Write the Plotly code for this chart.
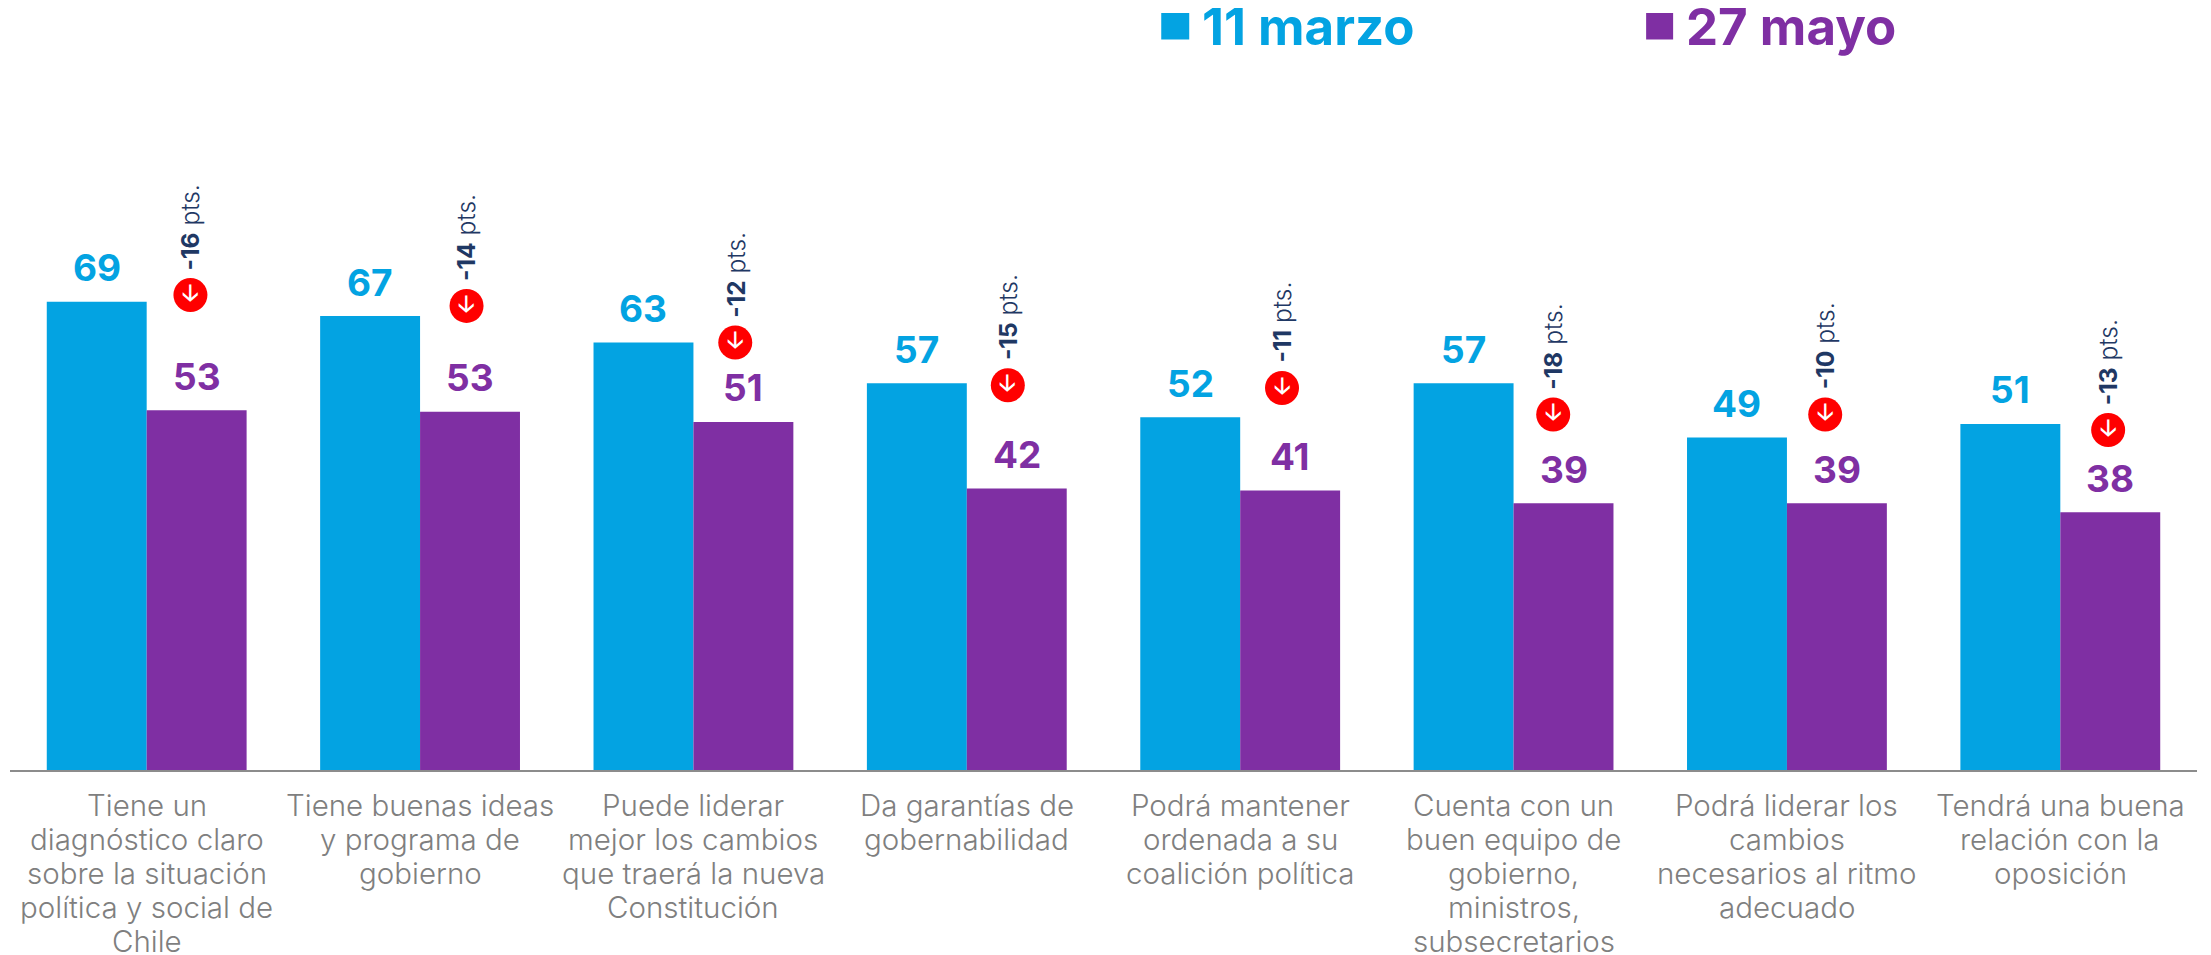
import plotly.graph_objects as go

categories = ["Tiene un<br>diagnóstico claro<br>sobre la situación<br>política y social de<br>Chile",
              "Tiene buenas ideas<br>y programa de<br>gobierno",
              "Puede liderar<br>mejor los cambios<br>que traerá la nueva<br>Constitución",
              "Da garantías de<br>gobernabilidad",
              "Podrá mantener<br>ordenada a su<br>coalición política",
              "Cuenta con un<br>buen equipo de<br>gobierno,<br>ministros,<br>subsecretarios",
              "Podrá liderar los<br>cambios<br>necesarios al ritmo<br>adecuado",
              "Tendrá una buena<br>relación con la<br>oposición"]
marzo = [69, 66.9, 63, 57, 52, 57, 49, 51]
mayo = [53, 52.8, 51.3, 41.5, 41.2, 39.3, 39.3, 38]
marzo_labels = [69, 67, 63, 57, 52, 57, 49, 51]
mayo_labels = [53, 53, 51, 42, 41, 39, 39, 38]
diffs = [-16, -14, -12, -15, -11, -18, -10, -13]
marker_x = [0.16, 0.17, 0.153, 0.15, 0.153, 0.145, 0.14, 0.175]
marker_y = [70, 68.4, 63, 56.7, 56.3, 52.4, 52.4, 50.1]

BLUE = "#03A3E2"
PURPLE = "#7F2FA3"
FONT = "Inter"
BAR_OFFSET = 0.183
xs = list(range(len(categories)))

fig = go.Figure()
fig.add_bar(x=xs, y=marzo, marker=dict(color=BLUE, line_width=0), name="11 marzo", showlegend=False)
fig.add_bar(x=xs, y=mayo, marker=dict(color=PURPLE, line_width=0), name="27 mayo", showlegend=False)
fig.add_scatter(x=[i + o for i, o in zip(xs, marker_x)], y=marker_y, mode="markers+text",
                marker=dict(size=34, color="#FF0000"), text=["🡣"] * 8, textposition="middle center",
                textfont=dict(color="white", size=23, family="DejaVu Sans", weight=700),
                showlegend=False, cliponaxis=False)

for i in xs:
    fig.add_annotation(x=i + marker_x[i], y=marker_y[i], yshift=23, text=f"<b>{diffs[i]}</b> pts.", textangle=-90,
                       showarrow=False, yanchor="bottom", xanchor="center",
                       font=dict(size=24.5, color="#1F3864", family=FONT, weight=300))
    for vals, labs, sign, col in ((marzo, marzo_labels, -1, BLUE), (mayo, mayo_labels, 1, PURPLE)):
        fig.add_annotation(x=i + sign * BAR_OFFSET, y=vals[i], yshift=34, text=str(labs[i]), showarrow=False,
                           yanchor="middle", xanchor="center",
                           font=dict(size=37, color=col, family=FONT, weight=700))
    for k, line in enumerate(categories[i].split("<br>")):
        fig.add_annotation(x=i, y=0, yshift=-35 - 34.1 * k, text=line, showarrow=False,
                           yanchor="middle", xanchor="center",
                           font=dict(size=29.5, color="#7F7F7F", family=FONT, weight=300))

# Figure sits 8px inside the page (body margin); legend keys are placed in paper space
PAGE = 8
L, R, B, H, W = 1.5, 14, 185, 947, 2203
PW, PH = W - L - R, H - B
def px(v): return (v - PAGE - L) / PW
def py(v): return 1 - (v - PAGE) / PH
for x0, x1, tx, name, col in ((1161, 1189, 1200, "11 marzo", BLUE), (1646, 1673, 1684, "27 mayo", PURPLE)):
    fig.add_shape(type="rect", xref="paper", yref="paper", x0=px(x0), x1=px(x1), y0=py(13), y1=py(39.5),
                  fillcolor=col, line_width=0)
    fig.add_annotation(xref="paper", yref="paper", x=px(tx), y=py(27), text=name, showarrow=False,
                       xanchor="left", yanchor="middle",
                       font=dict(size=51, color=col, family=FONT, weight=700))

fig.update_layout(
    width=W, height=H, margin=dict(l=L, r=R, t=0, b=B), autosize=False,
    paper_bgcolor="white", plot_bgcolor="white",
    barmode="group", bargap=0.269, bargroupgap=0, showlegend=False,
    xaxis=dict(range=[-0.5, 7.5], showgrid=False, zeroline=False, showticklabels=False,
               showline=True, linecolor="#8C8C8C", linewidth=2, ticks=""),
    yaxis=dict(range=[0, 112.3], visible=False),
)
fig.write_html("out.html")
